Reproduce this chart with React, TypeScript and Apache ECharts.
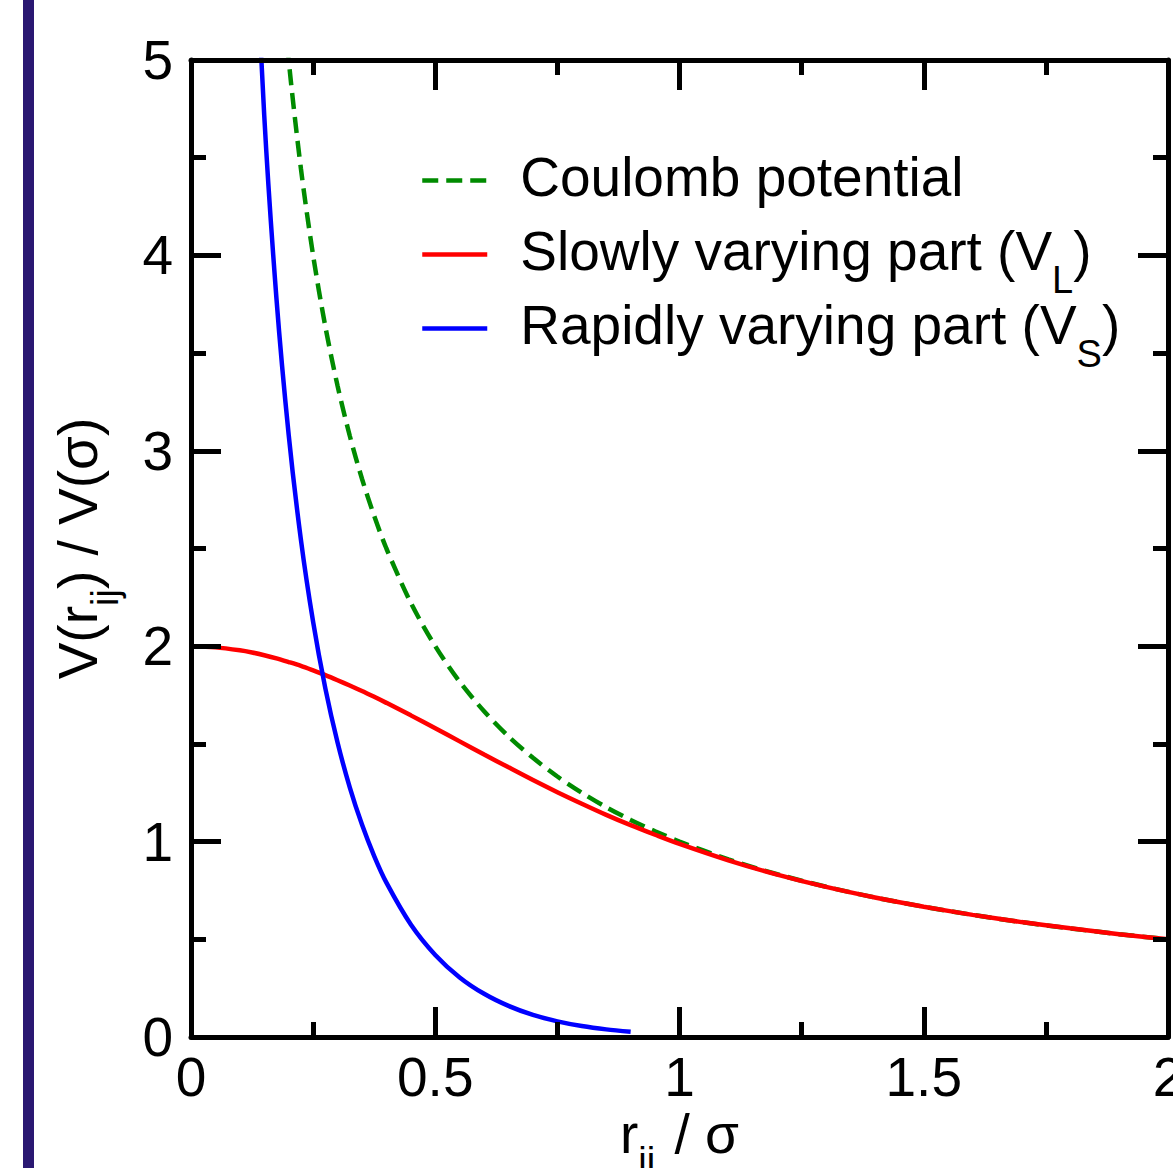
import React, { useEffect, useRef } from "react";
import * as echarts from "echarts";

// r_ij / sigma sample positions
const rValues = [
  0, 0.05, 0.1, 0.125, 0.15, 0.175, 0.2, 0.225, 0.25, 0.275, 0.3, 0.325, 0.35, 0.375, 0.4,
  0.45, 0.5, 0.55, 0.6, 0.65, 0.7, 0.75, 0.8, 0.85, 0.9, 0.95, 1.0, 1.1, 1.2, 1.3, 1.4, 1.5,
  1.6, 1.7, 1.8, 1.9, 2.0,
];
// Coulomb potential (dashed green)
const coulombValues = [
  null, null, null, null, 6.667, 5.714, 5.0, 4.444, 4.0, 3.636, 3.333, 3.077, 2.857, 2.667, 2.5,
  2.222, 2.0, 1.818, 1.667, 1.538, 1.429, 1.333, 1.25, 1.176, 1.111, 1.053, 1.0, 0.909, 0.833,
  0.769, 0.714, 0.667, 0.625, 0.588, 0.556, 0.526, 0.5,
];
// Slowly varying part V_L (red)
const slowValues = [
  2.0, 1.994, 1.979, 1.968, 1.954, 1.938, 1.919, 1.899, 1.876, 1.852, 1.826, 1.799, 1.771, 1.741,
  1.71, 1.646, 1.58, 1.513, 1.446, 1.38, 1.315, 1.253, 1.194, 1.137, 1.084, 1.035, 0.988, 0.904,
  0.831, 0.768, 0.714, 0.667, 0.625, 0.588, 0.556, 0.526, 0.5,
];
// Rapidly varying part V_S (blue)
const rapidValues = [
  null, null, 8.02, 6.032, 4.713, 3.777, 3.081, 2.545, 2.124, 1.784, 1.507, 1.278, 1.087, 0.926,
  0.79, 0.576, 0.42, 0.305, 0.221, 0.159, 0.113, 0.08, 0.056, 0.039, 0.027, null, null, null,
  null, null, null, null, null, null, null, null, null,
];
const seriesNames = ["Coulomb potential", "Slowly varying part (V_L)", "Rapidly varying part (V_S)"];
const legendLabels = [
  "{a|Coulomb potential}",
  "{a|Slowly varying part (V}{s|L}{a|)}",
  "{a|Rapidly varying part (V}{s|S}{a|)}",
];
const xTicks = { min: 0, max: 2, interval: 0.5 };
const yTicks = { min: 0, max: 5, interval: 1 };

const FONT = "'Liberation Sans', Arial, Helvetica, sans-serif";

function pairs(ys: (number | null)[]) {
  return rValues.map((x, i) => [x, ys[i]]).filter((p) => p[1] !== null);
}

const nameRich = {
  a: { fontSize: 55, lineHeight: 60, padding: [17, 0, 17, 0], color: "#000", fontFamily: FONT },
  s: { fontSize: 38, lineHeight: 40, padding: [54, 0, 0, 0], color: "#000", fontFamily: FONT },
  g: { fontSize: 55, lineHeight: 60, padding: [17, 4, 17, 0], color: "#000", fontFamily: FONT },
};
const legendRich = {
  a: { fontSize: 55, lineHeight: 60, padding: [13, 0, 21, 0], color: "#000", fontFamily: FONT },
  s: { fontSize: 38, lineHeight: 40, padding: [50, 0, 0, 0], color: "#000", fontFamily: FONT },
};

function axisCommon(showLabel: boolean) {
  return {
    type: "value",
    z: 5,
    axisLine: { show: true, onZero: false, lineStyle: { color: "#000", width: 5 } },
    axisTick: { show: true, inside: true, length: 30, lineStyle: { color: "#000", width: 5 } },
    minorTick: { show: true, splitNumber: 2, length: 15, lineStyle: { color: "#000", width: 5 } },
    splitLine: { show: false },
    minorSplitLine: { show: false },
    axisLabel: {
      show: showLabel,
      fontSize: 55,
      color: "#000",
      fontFamily: FONT,
      margin: 12,
    },
  };
}

export default function App() {
  const ref = useRef<HTMLDivElement>(null);
  useEffect(() => {
    if (!ref.current) return;
    const chart = echarts.init(ref.current, undefined, { renderer: "svg" });
    chart.setOption({
      animation: false,
      backgroundColor: "#fff",
      grid: {
        left: 191,
        right: 5,
        top: 60,
        bottom: 131,
        containLabel: false,
        outerBoundsMode: "none",
      },
      graphic: [
        {
          type: "rect",
          left: 23,
          top: 0,
          shape: { width: 11, height: 1168 },
          style: { fill: "#2a1872" },
          silent: true,
        },
      ],
      legend: {
        orient: "vertical",
        left: 420,
        top: 136,
        padding: 0,
        itemGap: -15,
        itemWidth: 65,
        itemHeight: 14,
        data: seriesNames,
        itemStyle: { opacity: 0 },
        lineStyle: { width: 4.5 },
        formatter: (name: string) => legendLabels[seriesNames.indexOf(name)],
        textStyle: { fontSize: 55, color: "#000", fontFamily: FONT, padding: [0, 0, 0, 28], rich: legendRich },
      },
      xAxis: [
        {
          ...axisCommon(true),
          position: "bottom",
          ...xTicks,
          name: "{a|r}{s|ij}{g|}{a| / σ}",
          nameLocation: "middle",
          nameGap: 67,
          nameMoveOverlap: false,
          nameTextStyle: { fontSize: 55, color: "#000", fontFamily: FONT, rich: nameRich },
        },
        { ...axisCommon(false), position: "top", ...xTicks },
      ],
      yAxis: [
        {
          ...axisCommon(true),
          position: "left",
          ...yTicks,
          axisLabel: { ...axisCommon(true).axisLabel, margin: 18 },
          name: "{a|V(r}{s|ij}{a|) / V(σ)}",
          nameLocation: "middle",
          nameRotate: 90,
          nameGap: 83,
          nameMoveOverlap: false,
          nameTextStyle: { fontSize: 55, color: "#000", fontFamily: FONT, rich: nameRich },
        },
        { ...axisCommon(false), position: "right", ...yTicks },
      ],
      series: [
        {
          name: seriesNames[0],
          type: "line",
          data: pairs(coulombValues),
          symbol: "none",
          smooth: 0.3,
          clip: true,
          lineStyle: { color: "#008b00", width: 4.5, type: [16, 8] },
          itemStyle: { color: "#008b00" },
        },
        {
          name: seriesNames[1],
          type: "line",
          data: pairs(slowValues),
          symbol: "none",
          smooth: 0.3,
          clip: true,
          lineStyle: { color: "#ff0000", width: 4.5 },
          itemStyle: { color: "#ff0000" },
        },
        {
          name: seriesNames[2],
          type: "line",
          data: pairs(rapidValues),
          symbol: "none",
          smooth: 0.3,
          clip: true,
          lineStyle: { color: "#0000ff", width: 4.5 },
          itemStyle: { color: "#0000ff" },
        },
      ],
    });
    return () => chart.dispose();
  }, []);
  return (
    <div
      ref={ref}
      style={{ position: "fixed", left: 0, top: 0, width: 1173, height: 1168 }}
    />
  );
}
